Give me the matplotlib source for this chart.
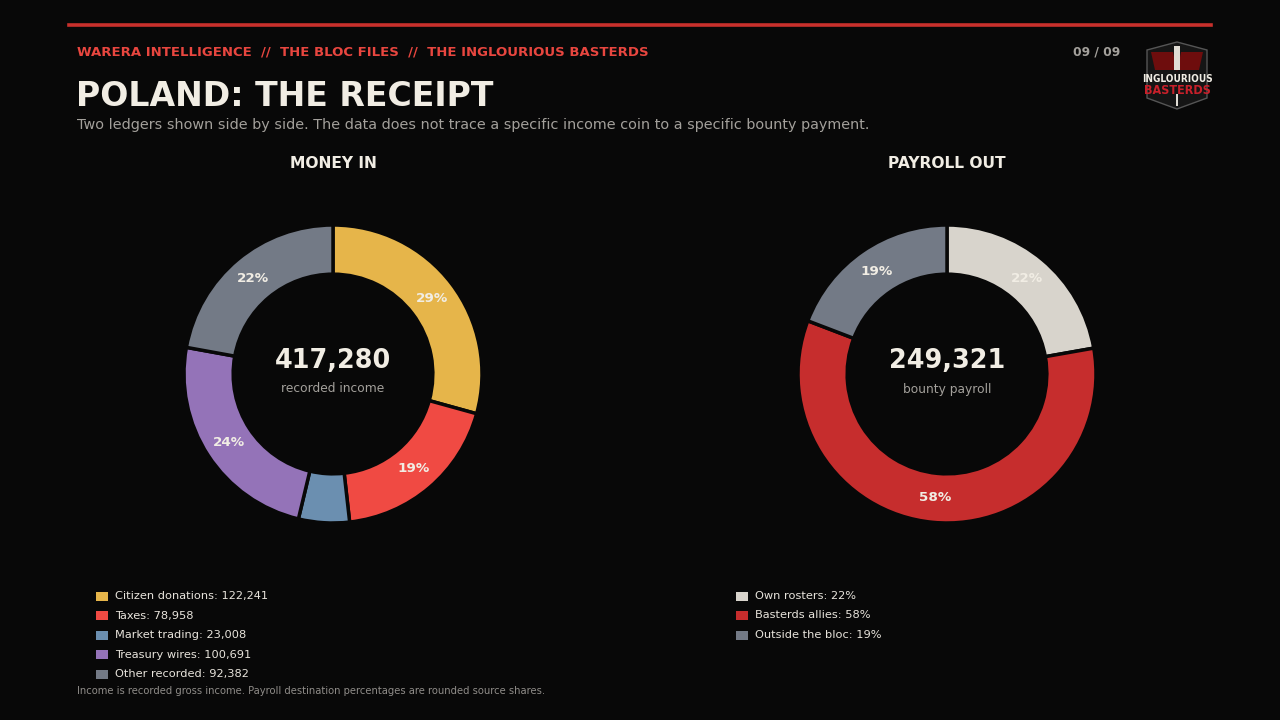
import matplotlib
matplotlib.use("Agg")
import matplotlib.pyplot as plt
from matplotlib.patches import Rectangle, Polygon

W, H = 1280, 720
BG = "#080808"
CREAM = "#f1ede4"
GREY_TXT = "#a3a09b"
RED_HDR = "#e8463f"

# data
income_labels = ["Citizen donations", "Taxes", "Market trading", "Treasury wires", "Other recorded"]
income_values = [122241, 78958, 23008, 100691, 92382]
income_colors = ["#e6b54a", "#f04a43", "#6b8fb0", "#9473b8", "#737a86"]

payroll_labels = ["Own rosters", "Basterds allies", "Outside the bloc"]
payroll_pct = [22, 58, 19]
payroll_colors = ["#d8d4cc", "#c62d2d", "#737a86"]

income_total = sum(income_values)
payroll_total = 249321


def px(x, y):
    return x / W, 1 - y / H


def donut(cx, cy, r, values, colors, label_fn):
    ax = fig.add_axes([(cx - r) / W, 1 - (cy + r) / H, 2 * r / W, 2 * r / H])
    ax.set_facecolor(BG)
    total = sum(values)
    ax.pie(values, colors=colors, startangle=90, counterclock=False,
           radius=1.0, autopct=lambda p: label_fn(p, total), pctdistance=0.835,
           wedgeprops=dict(width=0.33, edgecolor=BG, linewidth=2.5),
           textprops=dict(color=CREAM, fontsize=9.7, fontweight="bold"))
    ax.set_xlim(-1, 1)
    ax.set_ylim(-1, 1)
    ax.set_aspect("equal")
    ax.axis("off")
    return ax


def income_label(p, total):
    return f"{p:.0f}%" if p >= 10 else ""


def payroll_label(p, total):
    return f"{round(p * total / 100)}%"


fig = plt.figure(figsize=(12.8, 7.2), dpi=100, facecolor=BG)

# top rule
fig.add_artist(plt.Line2D([69 / W, 1211 / W], [1 - 24.5 / H] * 2, color="#c8302c", linewidth=2.6))

fig.text(*px(77, 52), "WARERA INTELLIGENCE  //  THE BLOC FILES  //  THE INGLOURIOUS BASTERDS",
         color=RED_HDR, fontsize=9.55, fontweight="bold", va="center", ha="left")
fig.text(*px(1120, 52), "09 / 09", color=GREY_TXT, fontsize=8.9, fontweight="bold", va="center", ha="right")
fig.text(*px(76, 97), "POLAND: THE RECEIPT", color=CREAM, fontsize=23.9, fontweight="bold", va="center", ha="left")
fig.text(*px(77, 125), "Two ledgers shown side by side. The data does not trace a specific income coin to a specific bounty payment.",
         color=GREY_TXT, fontsize=10.4, va="center", ha="left")

# logo badge
lx, ly = 1177, 76
hexpts = [(lx - 30, ly - 26), (lx, ly - 34), (lx + 30, ly - 26), (lx + 30, ly + 22),
          (lx, ly + 33), (lx - 30, ly + 22)]
fig.add_artist(Polygon([px(x, y) for x, y in hexpts], closed=True, facecolor="#151515",
                       edgecolor="#555555", linewidth=1.0, transform=fig.transFigure))
fig.add_artist(Polygon([px(x, y) for x, y in [(lx - 26, ly - 24), (lx - 4, ly - 24), (lx, ly - 4),
                                              (lx + 4, ly - 24), (lx + 26, ly - 24), (lx + 22, ly - 6),
                                              (lx - 22, ly - 6)]],
                       closed=True, facecolor="#6e0d0d", edgecolor="none", transform=fig.transFigure))
fig.add_artist(Rectangle(px(lx - 3, ly - 6), 6 / W, 24 / H, facecolor="#e0dcd4",
                         edgecolor="none", transform=fig.transFigure))
fig.add_artist(Rectangle(px(lx - 1, ly + 30), 2 / W, 12 / H, facecolor="#e0dcd4",
                         edgecolor="none", transform=fig.transFigure))
fig.text(*px(lx, ly + 3), "INGLOURIOUS", color="#f1ede4", fontsize=7.2, fontweight="bold",
         fontstretch="condensed", ha="center", va="center", family=["Liberation Sans Narrow", "DejaVu Sans"])
fig.text(*px(lx, ly + 15), "BASTERDS", color="#c8202a", fontsize=9, fontweight="bold",
         fontstretch="condensed", ha="center", va="center", family=["Liberation Sans Narrow", "DejaVu Sans"])

# section titles
fig.text(*px(333, 164), "MONEY IN", color=CREAM, fontsize=11.2, fontweight="bold", ha="center", va="center")
fig.text(*px(947, 164), "PAYROLL OUT", color=CREAM, fontsize=11.2, fontweight="bold", ha="center", va="center")

# donuts
donut(333, 374, 149, income_values, income_colors, income_label)
donut(947, 374, 149, payroll_pct, payroll_colors, payroll_label)

fig.text(*px(333, 361), f"{income_total:,}", color=CREAM, fontsize=18.4, fontweight="bold", ha="center", va="center")
fig.text(*px(333, 389), "recorded income", color=GREY_TXT, fontsize=8.8, ha="center", va="center")
fig.text(*px(947, 361), f"{payroll_total:,}", color=CREAM, fontsize=18.4, fontweight="bold", ha="center", va="center")
fig.text(*px(947, 389), "bounty payroll", color=GREY_TXT, fontsize=8.8, ha="center", va="center")

# legends
for i, (lab, val, col) in enumerate(zip(income_labels, income_values, income_colors)):
    y = 596 + i * 19.5
    fig.add_artist(Rectangle(px(96, y + 4.5), 12 / W, 9 / H, facecolor=col, edgecolor="none",
                             transform=fig.transFigure))
    fig.text(*px(115, y), f"{lab}: {val:,}", color="#e8e4dc", fontsize=8.2, ha="left", va="center")

for i, (lab, val, col) in enumerate(zip(payroll_labels, payroll_pct, payroll_colors)):
    y = 596 + i * 19.5
    fig.add_artist(Rectangle(px(736, y + 4.5), 12 / W, 9 / H, facecolor=col, edgecolor="none",
                             transform=fig.transFigure))
    fig.text(*px(755, y), f"{lab}: {val}%", color="#e8e4dc", fontsize=8.2, ha="left", va="center")

fig.text(*px(77, 691), "Income is recorded gross income. Payroll destination percentages are rounded source shares.",
         color="#8f8c88", fontsize=7.2, ha="left", va="center")

fig.savefig("out.png", dpi=100, facecolor=BG)
